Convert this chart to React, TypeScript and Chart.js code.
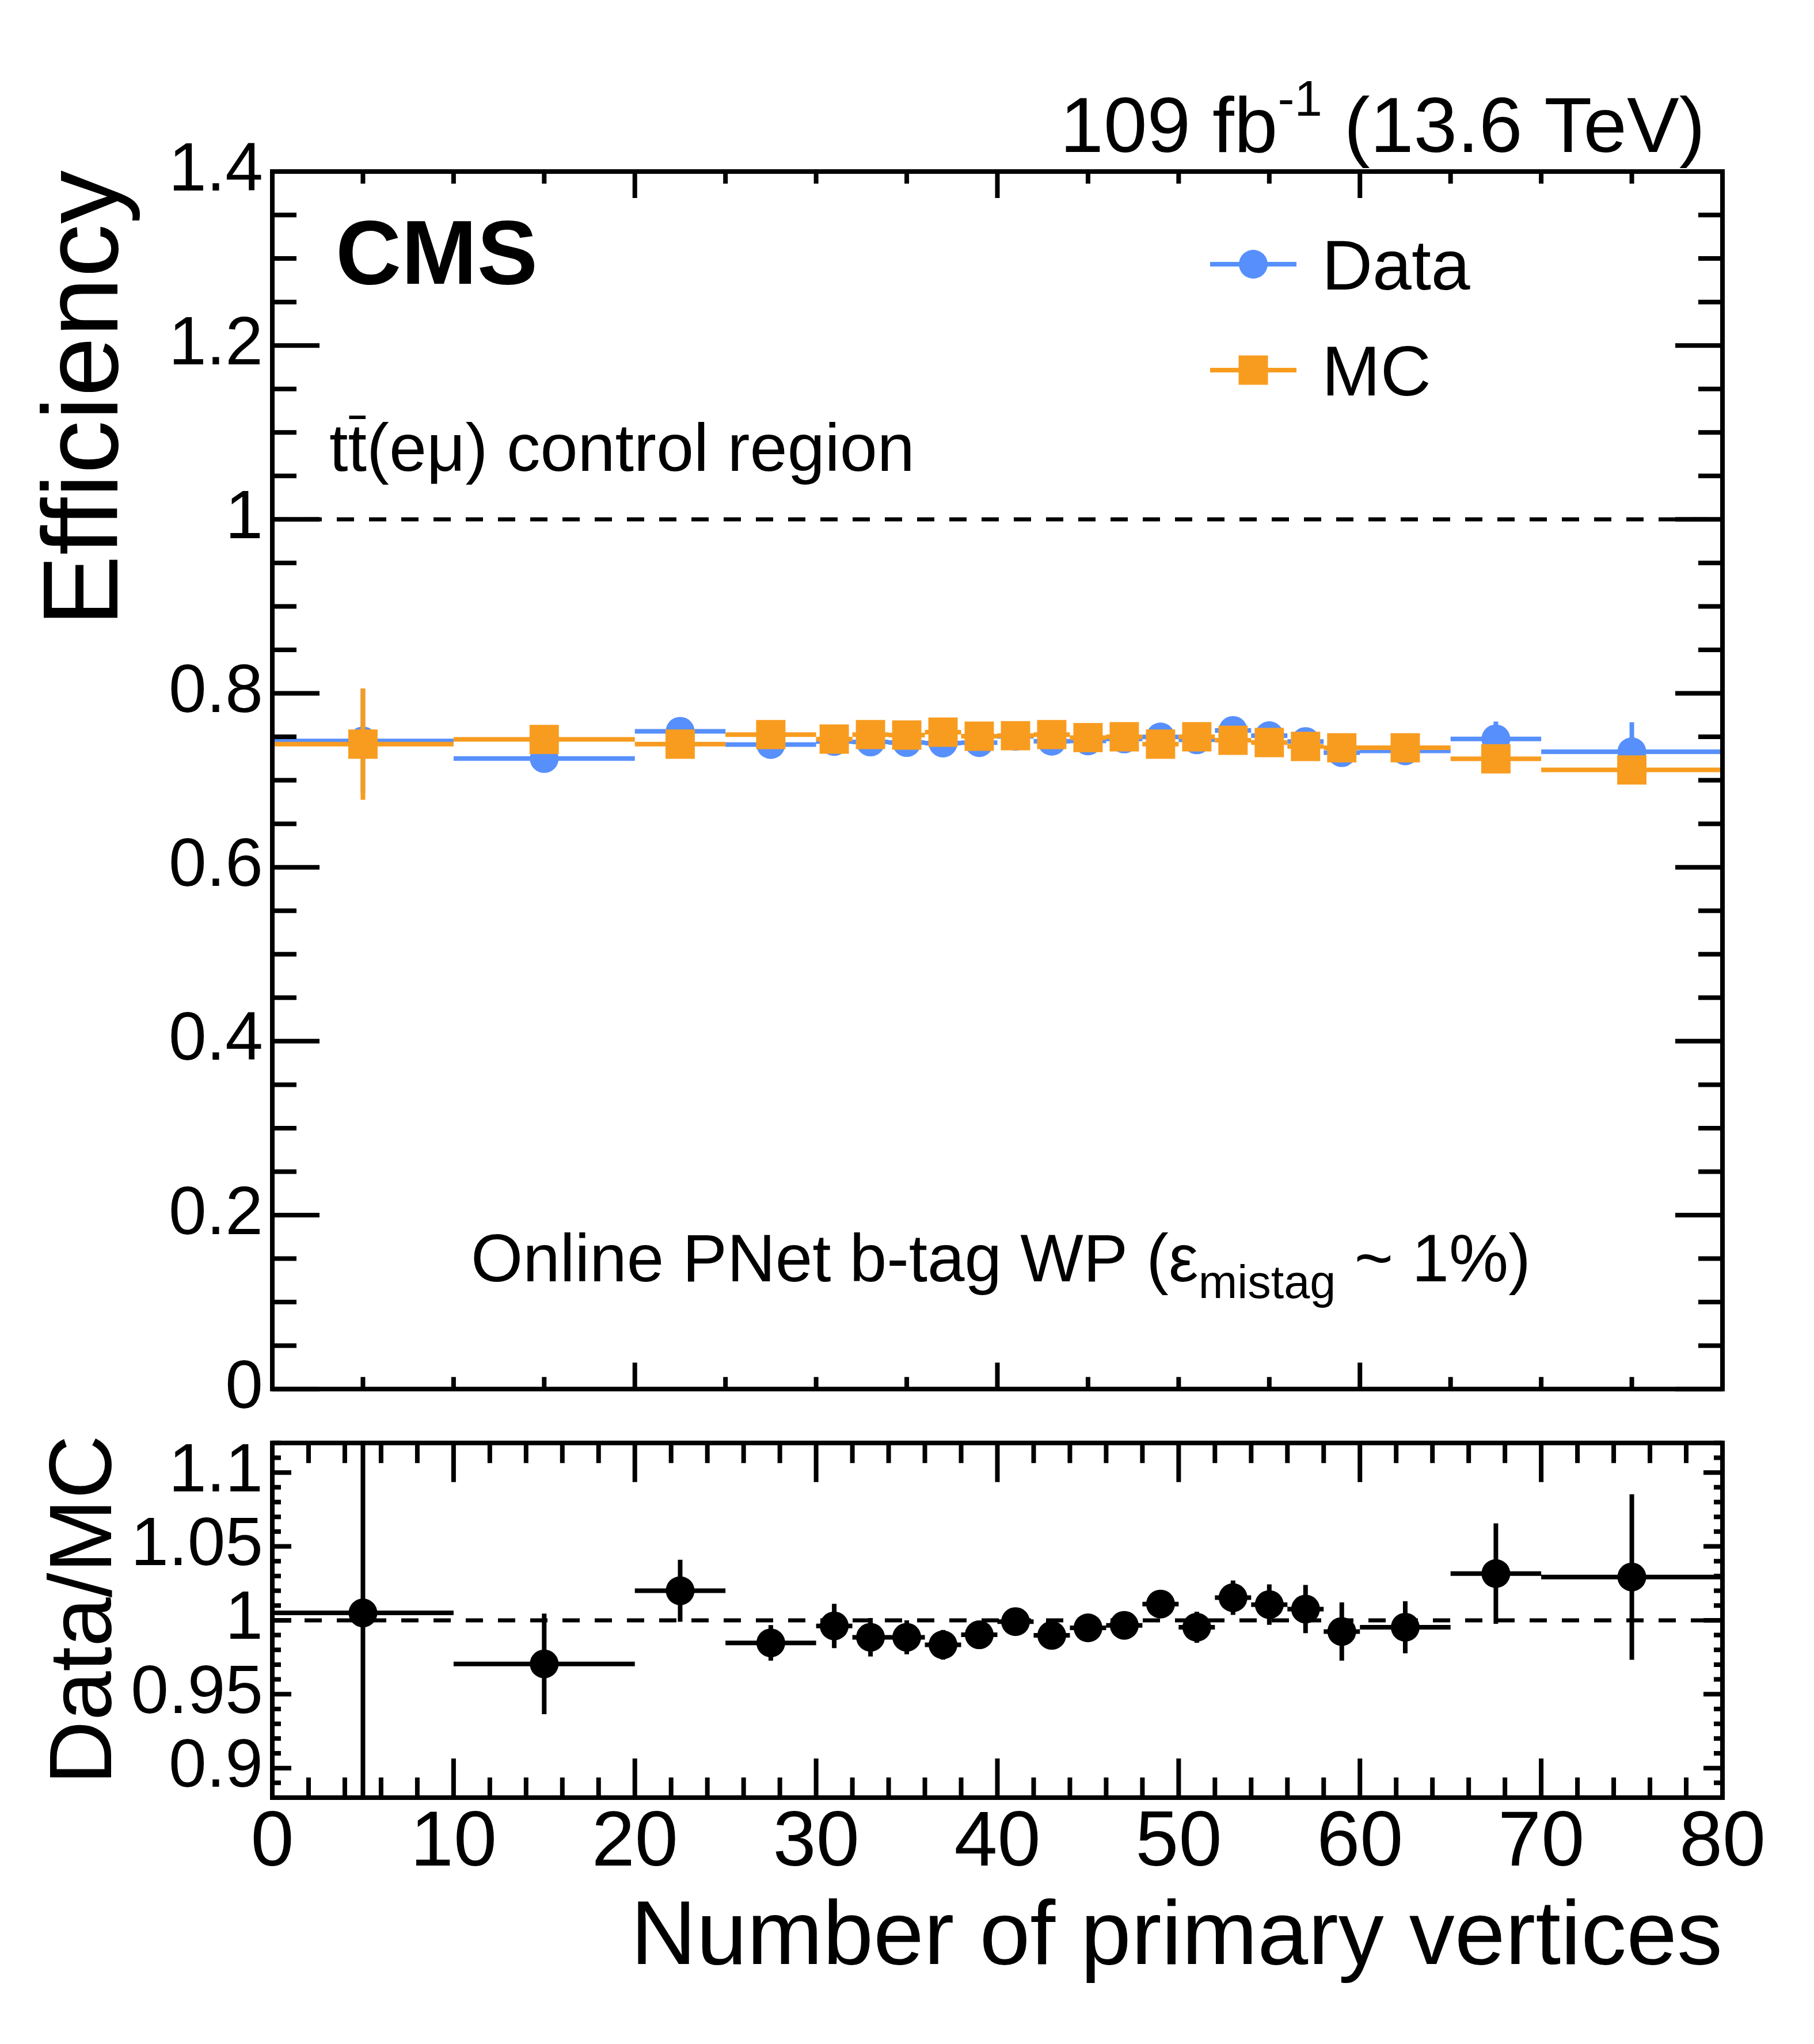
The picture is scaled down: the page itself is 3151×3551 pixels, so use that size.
import { useEffect, useRef } from 'react';
import { Chart, registerables } from 'chart.js';

Chart.register(...registerables);

const FONT = '"Liberation Sans", Arial, Helvetica, sans-serif';
const BLUE = '#5790fc';
const ORANGE = '#f89c20';
Chart.defaults.font.family = FONT;
Chart.defaults.color = '#000';

// bins of the number of primary vertices
const binCenters = [5, 15, 22.5, 27.5, 31, 33, 35, 37, 39, 41, 43, 45, 47, 49, 51, 53, 55, 57, 59, 62.5, 67.5, 75];
const binHalfWidths = [5, 5, 2.5, 2.5, 1, 1, 1, 1, 1, 1, 1, 1, 1, 1, 1, 1, 1, 1, 1, 2.5, 2.5, 5];

// efficiency, data
const dataEff = [0.7453, 0.725, 0.7564, 0.7411, 0.7446, 0.744, 0.7434, 0.7428, 0.7433, 0.7506, 0.7449, 0.7453, 0.7475, 0.7498, 0.7465, 0.7574, 0.7513, 0.7446, 0.7318, 0.7339, 0.7476, 0.7328];
const dataErr = [0.06, 0.012, 0.01, 0.006, 0.007, 0.006, 0.006, 0.005, 0.005, 0.005, 0.005, 0.005, 0.005, 0.005, 0.006, 0.007, 0.008, 0.009, 0.011, 0.01, 0.02, 0.034];
// efficiency, MC
const mcEff = [0.7416, 0.747, 0.7416, 0.7526, 0.7474, 0.7526, 0.752, 0.7553, 0.7507, 0.7513, 0.7526, 0.7491, 0.75, 0.7416, 0.75, 0.746, 0.7434, 0.739, 0.7374, 0.7374, 0.7247, 0.7119];
const mcErr = [0.064, 0.005, 0.004, 0.003, 0.003, 0.003, 0.003, 0.003, 0.003, 0.003, 0.003, 0.003, 0.003, 0.003, 0.003, 0.003, 0.003, 0.003, 0.004, 0.004, 0.005, 0.006];
// data / MC
const ratioVal = [1.005, 0.9705, 1.02, 0.9847, 0.9962, 0.9885, 0.9885, 0.9834, 0.9902, 0.9991, 0.9898, 0.9949, 0.9966, 1.011, 0.9953, 1.0153, 1.0106, 1.0076, 0.9924, 0.9953, 1.0316, 1.0293];
const ratioErr = [0.13, 0.034, 0.021, 0.012, 0.015, 0.013, 0.0115, 0.01, 0.008, 0.008, 0.008, 0.008, 0.008, 0.008, 0.0105, 0.0116, 0.0137, 0.0163, 0.0197, 0.0176, 0.034, 0.056];

const W = 3151, H = 3551;
const LEFT = 473, RIGHT = 2992;
const TOP_H = 2500, BOT_Y = 2420;
const A_TOP = 298, A_BOTTOM = 2423, B_TOP = 2495, B_BOTTOM = 3123;

const fmt = (v: any) => String(+Number(v).toFixed(3));

function range(min: number, max: number, step: number) {
  const out: number[] = [];
  for (let k = Math.ceil(min / step - 1e-6); k * step <= max + 1e-6; k++) out.push(+(k * step).toFixed(6));
  return out;
}
const isMaj = (v: number, step: number) => Math.abs(v / step - Math.round(v / step)) < 1e-6;

interface TickSpec { xMaj: number; xMin: number; yMaj: number; yMin: number; xMajLen: number; xMinLen: number; yMajLen: number; yMinLen: number }

function drawFrame(chart: any, t: TickSpec) {
  const { ctx, chartArea: a } = chart;
  const sx = chart.scales.x, sy = chart.scales.y;
  ctx.save();
  ctx.strokeStyle = '#000';
  ctx.lineWidth = 8;
  ctx.beginPath();
  for (const v of range(sx.min, sx.max, t.xMin)) {
    const px = sx.getPixelForValue(v);
    const len = isMaj(v, t.xMaj) ? t.xMajLen : t.xMinLen;
    ctx.moveTo(px, a.bottom); ctx.lineTo(px, a.bottom - len);
    ctx.moveTo(px, a.top); ctx.lineTo(px, a.top + len);
  }
  for (const v of range(sy.min, sy.max, t.yMin)) {
    const py = sy.getPixelForValue(v);
    const len = isMaj(v, t.yMaj) ? t.yMajLen : t.yMinLen;
    ctx.moveTo(a.left, py); ctx.lineTo(a.left + len, py);
    ctx.moveTo(a.right, py); ctx.lineTo(a.right - len, py);
  }
  ctx.stroke();
  ctx.strokeRect(a.left, a.top, a.right - a.left, a.bottom - a.top);
  ctx.restore();
}

function drawUnity(chart: any) {
  const { ctx, chartArea: a } = chart;
  const py = chart.scales.y.getPixelForValue(1);
  ctx.save();
  ctx.setLineDash([30, 26]);
  ctx.lineWidth = 7;
  ctx.strokeStyle = '#000';
  ctx.beginPath(); ctx.moveTo(a.left, py); ctx.lineTo(a.right, py); ctx.stroke();
  ctx.restore();
}

type Run = { t: string; size: number; dy?: number; bold?: boolean };
function drawRuns(ctx: CanvasRenderingContext2D, runs: Run[], x: number, y: number, align: 'left' | 'right') {
  const font = (r: Run) => `${r.bold ? 'bold ' : ''}${r.size}px ${FONT}`;
  let total = 0;
  for (const r of runs) { ctx.font = font(r); total += ctx.measureText(r.t).width; }
  let cx = align === 'right' ? x - total : x;
  ctx.textAlign = 'left';
  ctx.textBaseline = 'alphabetic';
  ctx.fillStyle = '#000';
  for (const r of runs) { ctx.font = font(r); ctx.fillText(r.t, cx, y + (r.dy || 0)); cx += ctx.measureText(r.t).width; }
}

function drawVertical(ctx: CanvasRenderingContext2D, text: string, size: number, x: number, yTop: number) {
  ctx.save();
  ctx.translate(x, yTop);
  ctx.rotate(-Math.PI / 2);
  ctx.font = `${size}px ${FONT}`;
  ctx.textAlign = 'right';
  ctx.textBaseline = 'alphabetic';
  ctx.fillStyle = '#000';
  ctx.fillText(text, 0, 0);
  ctx.restore();
}

function errorBars(errs: ({ xe: number[]; ye: number[]; color: string } | null)[]) {
  return {
    id: 'errorBars',
    beforeDatasetDraw(chart: any, args: any) {
      const e = errs[args.index];
      if (!e) return;
      const { ctx, chartArea: a } = chart;
      const { xScale, yScale } = args.meta;
      const data = chart.data.datasets[args.index].data as { x: number; y: number }[];
      ctx.save();
      ctx.beginPath(); ctx.rect(a.left, a.top, a.right - a.left, a.bottom - a.top); ctx.clip();
      ctx.strokeStyle = e.color;
      ctx.lineWidth = 8;
      ctx.beginPath();
      data.forEach((p, i) => {
        const px = xScale.getPixelForValue(p.x), py = yScale.getPixelForValue(p.y);
        ctx.moveTo(xScale.getPixelForValue(p.x - e.xe[i]), py);
        ctx.lineTo(xScale.getPixelForValue(p.x + e.xe[i]), py);
        ctx.moveTo(px, yScale.getPixelForValue(p.y - e.ye[i]));
        ctx.lineTo(px, yScale.getPixelForValue(p.y + e.ye[i]));
      });
      ctx.stroke();
      ctx.restore();
    }
  };
}

export default function App() {
  const topRef = useRef<HTMLCanvasElement>(null);
  const botRef = useRef<HTMLCanvasElement>(null);

  useEffect(() => {
    if (!topRef.current || !botRef.current) return;
    const pts = (ys: number[]) => binCenters.map((x, i) => ({ x, y: ys[i] }));
    const base: any = { responsive: false, animation: false, devicePixelRatio: 1, events: [], plugins: { legend: { display: false }, tooltip: { enabled: false } } };

    const topDecor = {
      id: 'topDecor',
      beforeDatasetsDraw: (c: any) => drawUnity(c),
      afterDatasetsDraw: (c: any) => drawFrame(c, { xMaj: 20, xMin: 5, yMaj: 0.2, yMin: 0.05, xMajLen: 46, xMinLen: 21, yMajLen: 82, yMinLen: 42 }),
      afterDraw: (c: any) => {
        const ctx = c.ctx as CanvasRenderingContext2D;
        drawRuns(ctx, [{ t: '109 fb', size: 136 }, { t: '-1', size: 87, dy: -63 }, { t: ' (13.6 TeV)', size: 136 }], 2962, 264, 'right');
        drawRuns(ctx, [{ t: 'CMS', size: 158, bold: true }], 583, 493, 'left');
        drawRuns(ctx, [{ t: 'tt(eμ) control region', size: 117 }], 572, 818, 'left');
        ctx.font = `117px ${FONT}`;
        const tw = ctx.measureText('t').width;
        ctx.fillRect(572 + tw + 2, 722, tw - 4, 6);
        drawRuns(ctx, [{ t: 'Online PNet b-tag WP (ε', size: 116 }, { t: 'mistag', size: 81, dy: 29 }, { t: ' ~ 1%)', size: 116 }], 818, 2226, 'left');
        drawVertical(ctx, 'Efficiency', 186, 204, 296);
        // legend
        const legend = [{ label: 'Data', color: BLUE, y: 459, square: false }, { label: 'MC', color: ORANGE, y: 643, square: true }];
        for (const l of legend) {
          ctx.fillStyle = l.color;
          ctx.fillRect(2102, l.y - 4, 150, 8);
          if (l.square) ctx.fillRect(2177 - 25.5, l.y - 25.5, 51, 51);
          else { ctx.beginPath(); ctx.arc(2177, l.y, 25, 0, Math.PI * 2); ctx.fill(); }
          drawRuns(ctx, [{ t: l.label, size: 122 }], 2296, l.y + 44, 'left');
        }
      }
    };

    const top = new Chart(topRef.current, {
      type: 'scatter',
      data: {
        datasets: [
          { label: 'MC', data: pts(mcEff), pointStyle: 'rect', pointRadius: 36, pointHoverRadius: 36, pointBorderWidth: 0, backgroundColor: ORANGE, borderColor: ORANGE },
          { label: 'Data', data: pts(dataEff), pointStyle: 'circle', pointRadius: 25, pointHoverRadius: 25, pointBorderWidth: 0, backgroundColor: BLUE, borderColor: BLUE }
        ]
      },
      options: {
        ...base,
        layout: { padding: { left: 0, top: A_TOP, right: W - RIGHT, bottom: TOP_H - A_BOTTOM } },
        scales: {
          x: { type: 'linear', min: 0, max: 80, display: false },
          y: {
            type: 'linear', min: 0, max: 1.4,
            grid: { display: false, drawTicks: false }, border: { display: false },
            ticks: { stepSize: 0.2, padding: 16, font: { size: 118 }, color: '#000', callback: fmt },
            afterFit: (s: any) => { s.width = LEFT; }
          }
        }
      },
      plugins: [errorBars([
        { xe: binHalfWidths, ye: mcErr, color: ORANGE },
        { xe: binHalfWidths, ye: dataErr, color: BLUE }
      ]), topDecor]
    } as any);

    const botDecor = {
      id: 'botDecor',
      beforeDatasetsDraw: (c: any) => drawUnity(c),
      afterDatasetsDraw: (c: any) => drawFrame(c, { xMaj: 10, xMin: 2, yMaj: 0.05, yMin: 0.01, xMajLen: 68, xMinLen: 35, yMajLen: 33, yMinLen: 15 }),
      afterDraw: (c: any) => {
        const ctx = c.ctx as CanvasRenderingContext2D;
        drawVertical(ctx, 'Data/MC', 154, 193, B_TOP - 2 - BOT_Y);
        drawRuns(ctx, [{ t: 'Number of primary vertices', size: 158 }], RIGHT, 3412 - BOT_Y, 'right');
      }
    };

    const bot = new Chart(botRef.current, {
      type: 'scatter',
      data: {
        datasets: [
          { label: 'Data/MC', data: pts(ratioVal), pointStyle: 'circle', pointRadius: 25, pointHoverRadius: 25, pointBorderWidth: 0, backgroundColor: '#000', borderColor: '#000' }
        ]
      },
      options: {
        ...base,
        layout: { padding: { left: 0, top: B_TOP - BOT_Y, right: W - RIGHT, bottom: (H - BOT_Y) - (B_BOTTOM - BOT_Y) - 120 } },
        scales: {
          x: {
            type: 'linear', min: 0, max: 80,
            grid: { display: false, drawTicks: false }, border: { display: false },
            ticks: { stepSize: 10, padding: 0, font: { size: 135 }, color: '#000', maxRotation: 0, autoSkip: false },
            afterFit: (s: any) => { s.height = 120; }
          },
          y: {
            type: 'linear', min: 0.88, max: 1.12,
            grid: { display: false, drawTicks: false }, border: { display: false },
            ticks: { stepSize: 0.05, includeBounds: false, padding: 16, font: { size: 118 }, color: '#000', callback: fmt },
            afterFit: (s: any) => { s.width = LEFT; }
          }
        }
      },
      plugins: [errorBars([{ xe: binHalfWidths, ye: ratioErr, color: '#000' }]), botDecor]
    } as any);

    return () => { top.destroy(); bot.destroy(); };
  }, []);

  return (
    <div style={{ position: 'absolute', left: 0, top: 0, width: W, height: H, background: '#fff' }}>
      <canvas ref={topRef} width={W} height={TOP_H} style={{ position: 'absolute', left: 0, top: 0, width: W, height: TOP_H }} />
      <canvas ref={botRef} width={W} height={H - BOT_Y} style={{ position: 'absolute', left: 0, top: BOT_Y, width: W, height: H - BOT_Y }} />
    </div>
  );
}
